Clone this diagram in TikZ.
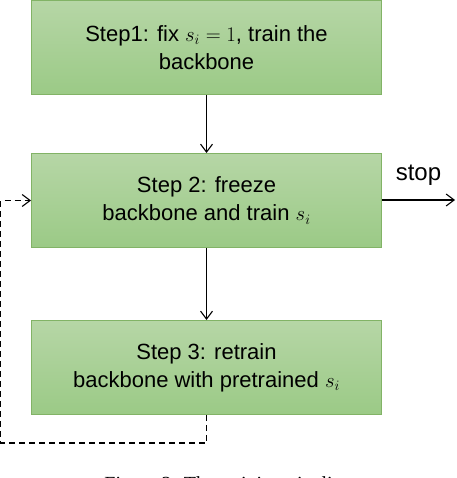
\documentclass[tikz,border=0pt]{standalone}
\usepackage{fontspec}
\setmainfont{Liberation Sans}
\newfontfamily\captionfont{Liberation Serif}
\usetikzlibrary{arrows.meta,positioning}
\definecolor{boxline}{HTML}{82B366}
\definecolor{boxtop}{HTML}{B6D6A6}
\definecolor{boxbottom}{HTML}{9BCA86}
\tikzset{%
  >={Straight Barb[length=8pt,width=12pt]},
  % Specifications for style of nodes:
     stepbox/.style = {rectangle, draw=boxline, line width=1pt,
                       top color=boxtop, bottom color=boxbottom,
                       minimum width=350pt, minimum height=94pt,
                       text centered, align=center,
                       font=\fontsize{22}{28}\selectfont},
   connector/.style = {->, line width=1.1pt},
    feedback/.style = {connector, dashed, dash pattern=on 6pt off 4pt},
}

\begin{document}
\begin{tikzpicture}[x=1pt, y=1pt]
\useasboundingbox (0,0) rectangle (456,-478);

\node (Fix)      [stepbox] at (206.5,-47.5) {Step1: fix $s_i = 1$, train the\\backbone};

\node (Freeze)   [stepbox, below=58pt of Fix]    {Step 2: freeze\\backbone and train $s_i$};

\node (Retrain)  [stepbox, below=72pt of Freeze] {Step 3: retrain\\backbone with pretrained $s_i$};

\coordinate (LoopCorner) at (0.8,-443);
\coordinate (StopEnd)    at (455,-200);

\draw[connector]      (Fix) -- (Freeze);
\draw[connector]      (Freeze) -- (Retrain);
\draw[connector]      (Freeze.east |- StopEnd) -- (StopEnd)
   node[midway, anchor=base, yshift=19pt, font=\fontsize{24}{28}\selectfont] {stop};
\draw[feedback]       (Retrain.south) |- (LoopCorner) |- (Freeze.west);

\node (Caption) [anchor=base, font=\captionfont\fontsize{20}{24}\selectfont]
   at (228,-490) {Figure 2: The training pipeline};
\end{tikzpicture}
\end{document}
